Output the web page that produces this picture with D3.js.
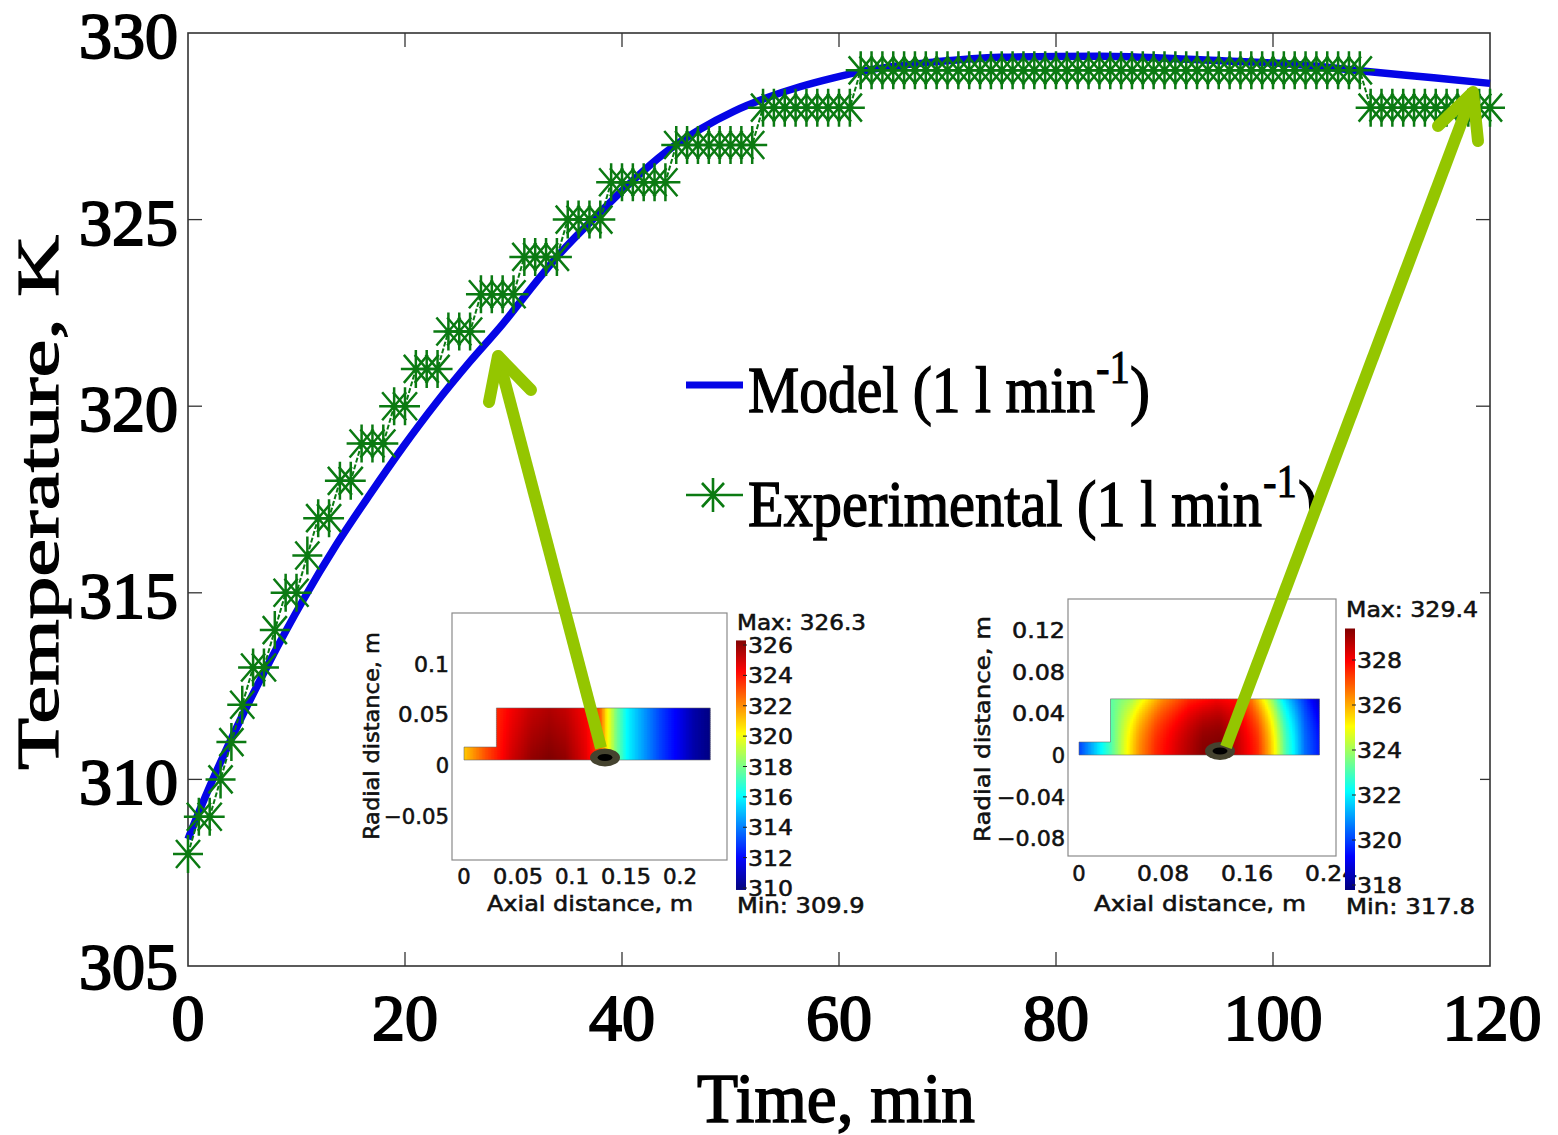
<!DOCTYPE html>
<html><head><meta charset="utf-8">
<style>html,body{margin:0;padding:0;background:#fff}svg{display:block}</style>
<script src="https://cdn.jsdelivr.net/npm/d3@7/dist/d3.min.js"></script>
</head><body><div id="c"></div>
<script>
// ---------- data ----------
const xTicks = [0,20,40,60,80,100,120];
const yTicks = [305,310,315,320,325,330];
const expTemps = [
 308,309,309,310,311,312,313,313,314,315,315,316,317,317,318,318,319,319,319,320,320,
 321,321,321,322,322,322,323,323,323,323,324,324,324,324,325,325,325,325,
 326,326,326,326,326,326,327,327,327,327,327,327,327,327,
 328,328,328,328,328,328,328,328,328,
 329,329,329,329,329,329,329,329,329,329,329,329,329,329,329,329,329,329,329,329,329,329,329,
 329,329,329,329,329,329,329,329,329,329,329,329,329,329,329,329,329,329,329,329,329,329,
 329,329,
 328,328,328,328,328,328,328,328,328,328,328,328];
const modelTime = [0,1.4,4.5,7.6,10.6,13.7,16.8,19.8,22.9,26,29,32,34,38,41,44,47.2,50.3,53.4,56.4,59.5,62.6,68.7,74.8,84,93.3,102.5,108.7,114.8,120];
const modelTemp = [308.4,309.4,311.4,313.2,314.8,316.3,317.65,318.9,320.1,321.2,322.2,323.3,324,325.2,326.05,326.8,327.42,327.9,328.27,328.56,328.8,329,329.22,329.35,329.38,329.28,329.15,328.97,328.8,328.65];

// inset 1 field (t = 38 min)
const a1Stops = [0,.02,.03,.044,.063,.079,.094,.113,.126,.132,.141,.151,.166,.182,.198,.213,.228];
const a1Bottom = [321,323,323.8,325,326,326.3,326,324.7,323,320.5,318,316,314.5,313,311.8,310.6,310];
const a1Top    = [321,323,323.6,324.4,325.2,325.5,325.2,324.3,322.8,320.5,318,316,314.5,313,311.8,310.6,310];
const a1Bar = [310,312,314,316,318,320,322,324,326];
const a1XT = [0,.05,.1,.15,.2];
const a1YT = [.1,.05,0,-.05];
// inset 2 field (t = 118 min)
const a2BotStops = [0,.015,.03,.044,.057,.073,.096,.118,.134,.153,.17,.181,.187,.197,.205,.215,.229];
const a2Bottom = [320,321.5,323,324.8,326.3,327.5,328.5,329.3,329.4,328.5,327.5,326,325,323,322,320.5,319.5];
const a2TopStops = [0,.015,.03,.05,.062,.079,.105,.131,.15,.165,.176,.184,.194,.208,.229];
const a2Top = [320,321.5,323.2,324,325,326.3,327.5,328,327.8,326.5,325,323.8,322,320.5,318.5];
const a2Bar = [318,320,322,324,326,328];
const a2XT = [0,.08,.16,.24];
const a2YT = [.12,.08,.04,0,-.04,-.08];
const fmt = v => (v<0?"\u2212":"")+Math.abs(v);

// ---------- helpers ----------
const W=1558,H=1135;
const svg=d3.select("#c").append("svg").attr("width",W).attr("height",H).style("background","#fff");
const defs=svg.append("defs");
const SERIF="'Liberation Serif',serif", SANS="'DejaVu Sans',sans-serif";
function T(g,s,x,y,o={}){
  const t=g.append("text").attr("x",x).attr("y",y).text(s)
    .attr("font-family",o.f||SERIF).attr("font-size",o.s||20)
    .attr("text-anchor",o.a||"start").attr("fill",o.c||"#000");
  if(o.sw) t.attr("stroke",o.c||"#000").attr("stroke-width",o.sw);
  if(o.len) t.attr("textLength",o.len).attr("lengthAdjust","spacingAndGlyphs");
  if(o.rot!==undefined) t.attr("transform",`rotate(${o.rot} ${x} ${y})`);
  return t;
}
const jet=d3.scaleLinear().domain([0,.125,.375,.625,.875,1]).range(["#00007f","#0000ff","#00ffff","#ffff00","#ff0000","#7f0000"]).clamp(true);

// ---------- main scales ----------
const x=d3.scaleLinear().domain([0,120]).range([188,1490]);
const y=d3.scaleLinear().domain([305,330]).range([966,33]);
const main=svg.append("g");
main.append("rect").attr("x",188).attr("y",33).attr("width",1302).attr("height",933).attr("fill","none").attr("stroke","#333").attr("stroke-width",1.6);
const tick=main.append("g").attr("stroke","#333").attr("stroke-width",1.3);
xTicks.slice(1,-1).forEach(v=>{
  tick.append("line").attr("x1",x(v)).attr("x2",x(v)).attr("y1",966).attr("y2",952);
  tick.append("line").attr("x1",x(v)).attr("x2",x(v)).attr("y1",33).attr("y2",47);
});
yTicks.slice(1,-1).forEach(v=>{
  tick.append("line").attr("y1",y(v)).attr("y2",y(v)).attr("x1",188).attr("x2",202);
  tick.append("line").attr("y1",y(v)).attr("y2",y(v)).attr("x1",1490).attr("x2",1476);
});
xTicks.forEach(v=>T(main,v,x(v)+(v==120?2:0),1040,{s:66,a:"middle",sw:2}));
yTicks.forEach(v=>T(main,v,178,y(v)+(v==305?23:25),{s:66,a:"end",sw:2}));
T(main,"Time, min",697,1122,{s:70,len:278,sw:1.6});
T(main,"Temperature, K",58,770,{s:60,len:535,rot:-90,sw:1.2});

// ---------- inset drawing ----------
function inset(o){
  const g=svg.append("g");
  g.append("rect").attr("x",o.bx).attr("y",o.by).attr("width",o.bw).attr("height",o.bh).attr("fill","#fff");
  g.append("rect").attr("x",o.fx0).attr("y",o.fy0).attr("width",o.fx1-o.fx0).attr("height",o.fy1-o.fy0)
    .attr("fill","#fff").attr("stroke","#8a8a8a").attr("stroke-width",1.2);
  const sx=d3.scaleLinear().domain([0,.2]).range([o.x0,o.x0+.2*o.kx]);
  const sy=d3.scaleLinear().domain([0,.1]).range([o.y0,o.y0-.1*o.ky]);
  const rBot=d3.scaleLinear().domain(o.botStops).range(o.bot).clamp(true);
  const rTop=d3.scaleLinear().domain(o.topStops).range(o.top).clamp(true);
  const col=d3.scaleLinear().domain(o.range).range([0,1]);
  const shape=[[0,0],[0,o.step],[o.stepX,o.step],[o.stepX,o.height],[o.xmax,o.height],[o.xmax,0]];
  const line=d3.line().x(d=>sx(d[0])).y(d=>sy(d[1]));
  defs.append("clipPath").attr("id",o.id).append("path").attr("d",line(shape)+"Z");
  const cells=g.append("g").attr("clip-path",`url(#${o.id})`);
  const cx=[],cy=[];
  for(let p=sx(0);p<sx(o.xmax);p+=1.5)cx.push(p);
  for(let p=sy(o.height);p<sy(0);p+=2)cy.push(p);
  cy.forEach(py=>{
    const f0=Math.min(1,Math.max(0,sy.invert(py+1)/o.height));
    const f=Math.pow(f0,o.bend);
    cells.selectAll(null).data(cx).enter().append("rect")
      .attr("x",d=>d).attr("y",py).attr("width",2).attr("height",2.5)
      .attr("fill",d=>{const m=sx.invert(d+.75);return jet(col(rBot(m)*(1-f)+rTop(m)*f));});
  });
  g.append("path").attr("d",line(shape)+"Z").attr("fill","none").attr("stroke","#666").attr("stroke-width",.8).attr("opacity",.7);
  // axis labels
  const opt={f:SANS,s:o.fs,sw:.55,c:"#111"};
  o.xt.forEach(v=>T(g,v,sx(v),o.xLabY,{...opt,a:"middle",len:o.xLen(v)}));
  o.yt.forEach(v=>T(g,fmt(v),o.fx0-3,sy(v)+o.yOff,{...opt,a:"end",len:o.yLen(v)}));
  T(g,"Axial distance, m",o.axX,o.axY,{...opt,len:o.axLen});
  T(g,"Radial distance, m",o.raX,o.raY,{...opt,rot:-90,len:o.raLen});
  // colour bar
  const b=d3.scaleLinear().domain(o.barD).range(o.barR);
  const bar=g.append("g");
  d3.range(b(o.range[1]),b(o.range[0]),1).forEach(p=>{
    bar.append("rect").attr("x",o.barX).attr("y",p).attr("width",10).attr("height",1.5)
      .attr("fill",jet(col(b.invert(p+.5))));
  });
  o.bar.forEach(v=>{
    T(g,v,o.barX+12,b(v)+8,{...opt,len:45});
    bar.append("line").attr("x1",o.barX+7).attr("x2",o.barX+11).attr("y1",b(v)).attr("y2",b(v)).attr("stroke","#222");
  });
  T(g,o.maxT,o.barX+1,o.maxY,{...opt,len:o.maxLen});
  const mn=T(g,o.minT,o.barX+1,o.minY,{...opt,len:o.minLen});
  if(o.minClip){
    defs.append("clipPath").attr("id",o.id+"m").append("rect").attr("x",o.barX-5).attr("y",o.minY-30).attr("width",o.minClip-o.barX+5).attr("height",50);
    mn.attr("clip-path",`url(#${o.id}m)`);
  }
  return {sx,sy};
}
const i1=inset({id:"i1",bx:352,by:600,bw:513,bh:322,fx0:452,fy0:613,fx1:727,fy1:860,bend:1,
  x0:464,kx:1080,y0:760,ky:1012,xmax:.228,stepX:.03,step:.0128,height:.0514,
  botStops:a1Stops,bot:a1Bottom,topStops:a1Stops,top:a1Top,range:[309.94,326.3],
  xt:a1XT,yt:a1YT,xLabY:884,yOff:13,fs:21,
  xLen:v=>v==0?null:(v==.1||v==.2)?34:50,
  yLen:v=>v==0?null:v==.1?35:v==.05?51:65,
  axX:487,axY:911,axLen:206,raX:379,raY:840,raLen:208,
  barX:736,barD:[310,326],barR:[888,645],bar:a1Bar,
  maxT:"Max: 326.3",maxY:630,maxLen:129,minT:"Min: 309.94",minY:913,minLen:143,minClip:864});
const i2=inset({id:"i2",bx:965,by:590,bw:515,bh:330,fx0:1068,fy0:599,fx1:1336,fy1:856,bend:2.2,
  x0:1079,kx:1050,y0:755,ky:1040,xmax:.229,stepX:.03,step:.0125,height:.054,
  botStops:a2BotStops,bot:a2Bottom,topStops:a2TopStops,top:a2Top,range:[317.8,329.4],
  xt:a2XT,yt:a2YT,xLabY:881,yOff:8,fs:21,
  xLen:v=>v==0?null:52,
  yLen:v=>v==0?null:v<0?68:53,
  axX:1094,axY:911,axLen:212,raX:990,raY:842,raLen:226,
  barX:1345,barD:[318,328],barR:[885,660],bar:a2Bar,
  maxT:"Max: 329.4",maxY:617,maxLen:132,minT:"Min: 317.8",minY:914,minLen:129});
[[605,757.5],[1220,751]].forEach(c=>{
  svg.append("ellipse").attr("cx",c[0]).attr("cy",c[1]).attr("rx",15).attr("ry",9).attr("fill","#45432f");
  svg.append("ellipse").attr("cx",c[0]).attr("cy",c[1]).attr("rx",7.5).attr("ry",3.5).attr("fill","#000");
});

// ---------- series ----------
const GREEN="#0b7a12", BLUE="#0505e6";
const starPath=(hx,vy,dx,dy)=>`M${-hx},0H${hx}M0,${-vy}V${vy}M${-dx},${-dy}L${dx},${dy}M${-dx},${dy}L${dx},${-dy}`;
const series=svg.append("g");
series.append("path").datum(modelTime.map((t,i)=>[t,modelTemp[i]]))
  .attr("d",d3.line().x(d=>x(d[0])).y(d=>y(d[1])).curve(d3.curveMonotoneX))
  .attr("fill","none").attr("stroke",BLUE).attr("stroke-width",7.5);
const expData=expTemps.map((v,i)=>[i,v]);
series.append("path").datum(expData).attr("d",d3.line().x(d=>x(d[0])).y(d=>y(d[1])))
  .attr("fill","none").attr("stroke",GREEN).attr("stroke-width",2).attr("stroke-dasharray","5 2");
series.selectAll(".m").data(expData).enter().append("path").attr("class","m")
  .attr("transform",d=>`translate(${x(d[0])},${y(d[1])})`)
  .attr("d",starPath(15,19,12,14)).attr("fill","none").attr("stroke",GREEN).attr("stroke-width",2.5);

// ---------- legend ----------
const leg=svg.append("g");
leg.append("line").attr("x1",686).attr("x2",743).attr("y1",385).attr("y2",385).attr("stroke",BLUE).attr("stroke-width",7);
leg.append("line").attr("x1",686).attr("x2",743).attr("y1",495).attr("y2",495).attr("stroke",GREEN).attr("stroke-width",2.6);
leg.append("path").attr("transform","translate(713,495)").attr("d",starPath(0,17,11,12)).attr("fill","none").attr("stroke",GREEN).attr("stroke-width",2.6);
T(leg,"Model (1 l min",748,412,{s:66,len:347,sw:1.4});
T(leg,"-1",1096,383,{s:46,len:34,sw:.9});
T(leg,")",1130,412,{s:66,len:20,sw:1.4});
T(leg,"Experimental (1 l min",748,526,{s:66,len:514,sw:1.4});
T(leg,"-1",1263,497,{s:46,len:34,sw:.9});
T(leg,")",1298,526,{s:66,len:20,sw:1.4});

// ---------- arrows ----------
const ARROW="#94c600";
const aLine=d3.line();
[[[601,748],[498,356]],[[1226,747],[1473,92]]].forEach(s=>{
  svg.append("path").attr("d",aLine(s)).attr("stroke",ARROW).attr("stroke-width",12).attr("fill","none");
});
[[[489,402],[498,356],[531,390]],[[1438,126],[1473,92],[1478,141]]].forEach(s=>{
  svg.append("path").attr("d",aLine(s)).attr("stroke",ARROW).attr("stroke-width",12).attr("fill","none").attr("stroke-linecap","round").attr("stroke-linejoin","round");
});
</script></body></html>
